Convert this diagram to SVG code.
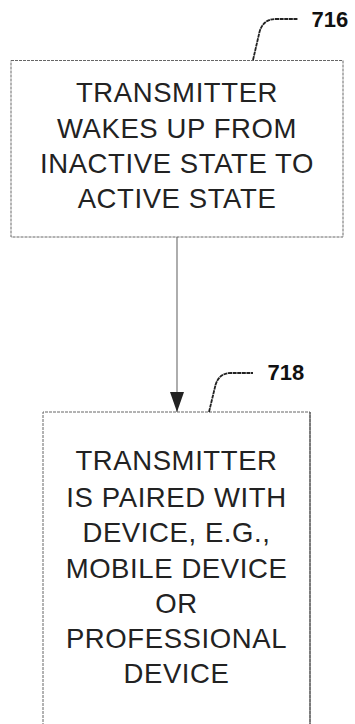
<svg xmlns="http://www.w3.org/2000/svg" width="355" height="724" viewBox="0 0 355 724">
<defs>
<style>
.box{fill:#fff;stroke:#666;stroke-width:1;stroke-dasharray:3,1}
.t{font-family:"Liberation Sans",Arial,sans-serif;font-size:27.5px;fill:#222;text-anchor:middle;letter-spacing:0.6px}
.lbl{font-family:"Liberation Sans",Arial,sans-serif;font-size:22px;font-weight:bold;fill:#111}
.lead{fill:none;stroke:#222;stroke-width:1.8;stroke-dasharray:4,0.6}
.conn{fill:none;stroke:#777;stroke-width:1.2}
</style>
<marker id="ah" viewBox="0 0 20 14" refX="20" refY="7" markerWidth="20" markerHeight="14" markerUnits="userSpaceOnUse" orient="auto">
<path d="M0,0 L20,7 L0,14 Z" fill="#222"/>
</marker>
</defs>
<rect width="355" height="724" fill="#fff"/>
<g id="connectors">
<line class="conn" x1="177" y1="237" x2="177" y2="412" marker-end="url(#ah)"/>
</g>
<g id="node716">
<rect class="box" x="11" y="60.5" width="332" height="176.5"/>
<text class="t" x="177" y="101.5">TRANSMITTER</text>
<text class="t" x="177" y="138">WAKES UP FROM</text>
<text class="t" x="177" y="173">INACTIVE STATE TO</text>
<text class="t" x="177" y="208">ACTIVE STATE</text>
<path class="lead" d="M253,60 L259.5,32 Q263,19 276,19 L298,19"/>
<text class="lbl" x="311.5" y="26.5">716</text>
</g>
<g id="node718">
<path class="box" d="M43,730 L43,412 L310,412 L310,730"/>
<line x1="310" y1="412" x2="310" y2="724" stroke="#555" stroke-width="1.2"/>
<text class="t" x="176.5" y="470">TRANSMITTER</text>
<text class="t" x="176.5" y="506.5">IS PAIRED WITH</text>
<text class="t" x="176.5" y="541.5">DEVICE, E.G.,</text>
<text class="t" x="176.5" y="578">MOBILE DEVICE</text>
<text class="t" x="176.5" y="613">OR</text>
<text class="t" x="176.5" y="648">PROFESSIONAL</text>
<text class="t" x="176.5" y="683">DEVICE</text>
<path class="lead" d="M209,412 L215.5,385 Q219,373 231,373 L253,373"/>
<text class="lbl" x="267.5" y="380">718</text>
</g>
</svg>
